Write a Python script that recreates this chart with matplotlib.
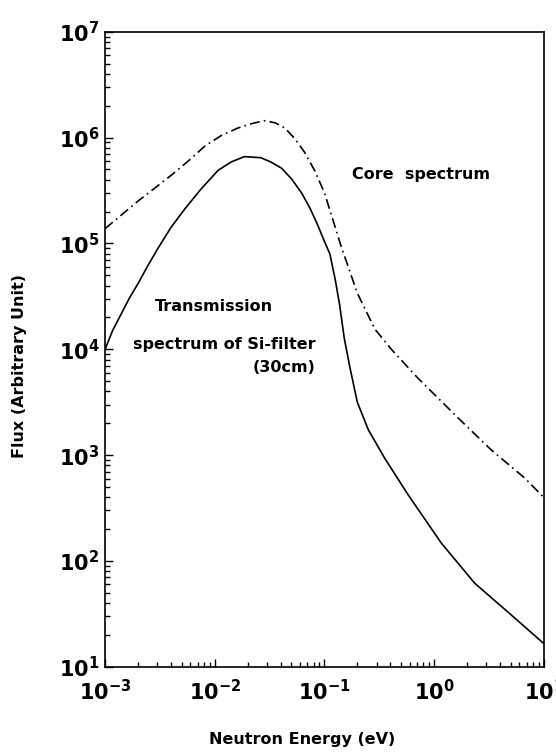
import matplotlib
matplotlib.use("Agg")
import matplotlib.pyplot as plt
from matplotlib.ticker import LogLocator, FuncFormatter, NullFormatter
import numpy as np

plt.rcParams['font.family'] = ['DejaVu Sans']
plt.rcParams['font.weight'] = 'bold'
plt.rcParams['mathtext.fontset'] = 'dejavusans'
plt.rcParams['mathtext.default'] = 'bf'

# transmission spectrum of Si-filter (30cm), solid line  (log10 E [eV], log10 flux)
trans_logE = [-3.0, -2.93, -2.85, -2.78, -2.70, -2.61, -2.52, -2.40, -2.27, -2.12,
              -1.97, -1.85, -1.73, -1.58, -1.49, -1.39, -1.30, -1.21, -1.13, -1.06,
              -1.0, -0.95, -0.90, -0.86, -0.82, -0.77, -0.70, -0.60, -0.45,
              -0.24, 0.065, 0.37, 0.67, 1.0]
trans_logF = [4.0, 4.18, 4.34, 4.48, 4.62, 4.79, 4.95, 5.15, 5.33, 5.52,
              5.69, 5.77, 5.82, 5.81, 5.77, 5.71, 5.61, 5.48, 5.33, 5.17,
              5.02, 4.90, 4.65, 4.41, 4.11, 3.84, 3.50, 3.24, 2.97,
              2.63, 2.17, 1.79, 1.52, 1.22]

# core spectrum, dash-dot line
core_logE = [-3.0, -2.85, -2.70, -2.55, -2.39, -2.24, -2.09, -1.94, -1.79, -1.67,
             -1.55, -1.45, -1.36, -1.27, -1.18, -1.09, -1.0, -0.85, -0.70, -0.54,
             -0.39, -0.15, 0.22, 0.52, 0.83, 1.0]
core_logF = [5.14, 5.27, 5.40, 5.52, 5.65, 5.78, 5.92, 6.02, 6.09, 6.13,
             6.16, 6.14, 6.09, 5.99, 5.86, 5.69, 5.48, 4.98, 4.53, 4.19,
             4.00, 3.73, 3.35, 3.05, 2.78, 2.60]

trans_E = 10 ** np.array(trans_logE)
trans_F = 10 ** np.array(trans_logF)
core_E = 10 ** np.array(core_logE)
core_F = 10 ** np.array(core_logF)

fig = plt.figure(figsize=(5.56, 7.56), dpi=100)
ax = fig.add_axes([0.189, 0.118, 0.789, 0.840])

ax.plot(trans_E, trans_F, color='black', lw=1.2)
ax.plot(core_E, core_F, color='black', lw=1.2, linestyle=(0, (6, 2.5, 1, 2.5)))

ax.set_xscale('log')
ax.set_yscale('log')
ax.set_xlim(1e-3, 1e1)
ax.set_ylim(1e1, 1e7)

ax.xaxis.set_major_locator(LogLocator(base=10, numticks=10))
ax.yaxis.set_major_locator(LogLocator(base=10, numticks=10))
ax.xaxis.set_minor_locator(LogLocator(base=10, subs=np.arange(2, 10), numticks=10))
ax.yaxis.set_minor_locator(LogLocator(base=10, subs=np.arange(2, 10), numticks=10))
fmt = FuncFormatter(lambda v, p: r'$10^{%d}$' % int(round(np.log10(v))))
ax.xaxis.set_major_formatter(fmt)
ax.yaxis.set_major_formatter(fmt)
ax.xaxis.set_minor_formatter(NullFormatter())
ax.yaxis.set_minor_formatter(NullFormatter())

ax.tick_params(which='both', direction='in', top=False, right=False, width=1)
ax.tick_params(which='major', length=6, labelsize=15)
ax.tick_params(which='minor', length=3.5)
ax.tick_params(axis='x', which='major', pad=9)
ax.tick_params(axis='y', which='major', pad=4)
for s in ax.spines.values():
    s.set_linewidth(1.2)

ax.set_ylabel('Flux (Arbitrary Unit)', fontsize=11.5, fontweight='bold')
ax.yaxis.set_label_coords(-0.194, 0.474)
ax.yaxis.label.set_va('center')
ax.set_xlabel('Neutron Energy (eV)', fontsize=11.5, fontweight='bold')
ax.xaxis.set_label_coords(0.449, -0.115)
ax.xaxis.label.set_va('center')

ax.text(0.563, 0.775, 'Core  spectrum', transform=ax.transAxes, fontsize=11.5,
        fontweight='bold', va='center')
ax.text(0.114, 0.567, 'Transmission', transform=ax.transAxes, fontsize=11.5,
        fontweight='bold', va='center')
ax.text(0.064, 0.507, 'spectrum of Si-filter', transform=ax.transAxes, fontsize=11.5,
        fontweight='bold', va='center')
ax.text(0.337, 0.472, '(30cm)', transform=ax.transAxes, fontsize=11.5,
        fontweight='bold', va='center')

fig.savefig('out.png', dpi=100)
